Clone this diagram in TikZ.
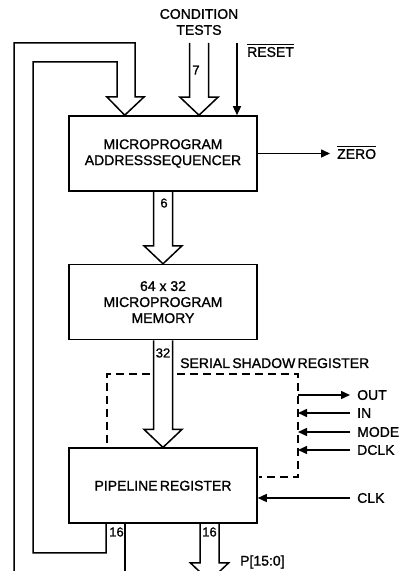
\documentclass[tikz,border=0pt]{standalone}
\usepackage{fontspec}
\setmainfont{Liberation Sans}[FakeBold=1.2]
\usetikzlibrary{arrows.meta,calc,positioning}
\tikzset{
  block/.style={draw,line width=1.6pt,minimum width=188pt,minimum height=75pt,align=center},
  bus/.style={line width=1.5pt,line join=miter},
  sig/.style={line width=1.5pt,-{Triangle[length=9pt,width=8pt]}},
  shadowline/.style={line width=1.5pt,dash pattern=on 8pt off 5pt},
  lbl/.style={inner sep=0pt,anchor=west},
  width/.style={inner sep=0pt,font=\fontsize{13}{15}\selectfont},
  bar/.style={line width=1.2pt}
}
% hollow bus arrow: #1 start, #2 tip (same x)
\newcommand{\busarrow}[2]{%
  \draw[bus] let \p1=#1, \p2=#2 in
    (\x2-9.5pt,\y1) -- (\x2-9.5pt,\y2+18pt) -- (\x2-19pt,\y2+18pt) -- (\x2,\y2)
    -- (\x2+19pt,\y2+18pt) -- (\x2+9.5pt,\y2+18pt) -- (\x2+9.5pt,\y1);}
\begin{document}
\begin{tikzpicture}[x=1pt,y=1pt,font=\fontsize{14}{16}\selectfont]
  \clip (0,0) rectangle (402,571);
  % blocks
  \node[block] (seq) at (163,417.5) {MICROPROGRAM\\ADDRESSSEQUENCER};
  \node[block,below=72pt of seq] (mem) {64 x 32\\MICROPROGRAM\\MEMORY};
  \node[block,below=107pt of mem] (pipe) {PIPELINE\,REGISTER};
  % condition tests
  \node[align=center,inner sep=0pt] (cond) at (199,549) {CONDITION\\TESTS};
  \coordinate (condtop) at (199,528);
  \busarrow{(condtop)}{(condtop |- seq.north)}
  \node[width] (w7) at (196,501) {7};
  % reset
  \coordinate (rsttop) at (237,528);
  \draw[sig] (rsttop) -- (rsttop |- seq.north);
  \node[lbl] (rst) at (247,519) {RESET};
  \draw[bar] ([yshift=2.5pt]rst.north west) -- ([yshift=2.5pt]rst.north east);
  % zero output
  \coordinate (zeroend) at (330,417.5);
  \draw[sig] (seq.east) -- (zeroend);
  \node[lbl] (zero) at (337,417) {ZERO};
  \draw[bar] ([yshift=2.5pt]zero.north west) -- ([yshift=2.5pt]zero.north east);
  % address bus and data bus
  \busarrow{(seq.south)}{(mem.north)}
  \node[width] (w6) at (164,368) {6};
  \busarrow{(mem.south)}{(pipe.north)}
  \node[width] (w32) at (163,218) {32};
  % feedback loop
  \coordinate (fbtip) at ($(seq.north west)+(56.5,0)$);
  \coordinate (fbl) at ($(pipe.south west)+(38,0)$);
  \coordinate (fbr) at ($(pipe.south west)+(57,0)$);
  \draw[bus] (14,-5) -- (14,528) -- (135,528) -- (135,474) -- (144,474) -- (fbtip)
    -- (107,474) -- (117,474) -- (117,509) -- (33,509) -- (33,18) -- (fbl |- 0,18) -- (fbl);
  \draw[bus] (fbr) -- (fbr |- 0,-5);
  \node[width] (w16a) at (116.5,39) {16};
  % pipeline output
  \coordinate (pout) at ($(pipe.south)+(46.5,-57)$);
  \busarrow{($(pipe.south)+(46.5,0)$)}{(pout)}
  \node[width] (w16b) at (209.5,39) {16};
  \node[lbl] (p) at (240,9) {P[15:0]};
  % serial shadow register
  \node[lbl,anchor=base west] (ssr) at (180,203) {SERIAL\,SHADOW\,REGISTER};
  \draw[shadowline] (150,197) -- (107,197) -- (107,128);
  \draw[shadowline] (177,197) -- (298,197) -- (298,94) -- (259,94);
  \node[lbl] (out) at (357,176) {OUT};
  \draw[sig] (298,176) -- ([xshift=-7pt]out.west);
  \foreach \txt/\y in {IN/158,MODE/139,DCLK/121}{
    \node[lbl] (s\txt) at (357,\y) {\txt};
    \draw[sig] ([xshift=-7pt]s\txt.west) -- (298,\y);
  }
  % clock
  \node[lbl] (clk) at (357,73) {CLK};
  \draw[sig] ([xshift=-7pt]clk.west) -- (clk.west -| pipe.east);
\end{tikzpicture}
\end{document}
